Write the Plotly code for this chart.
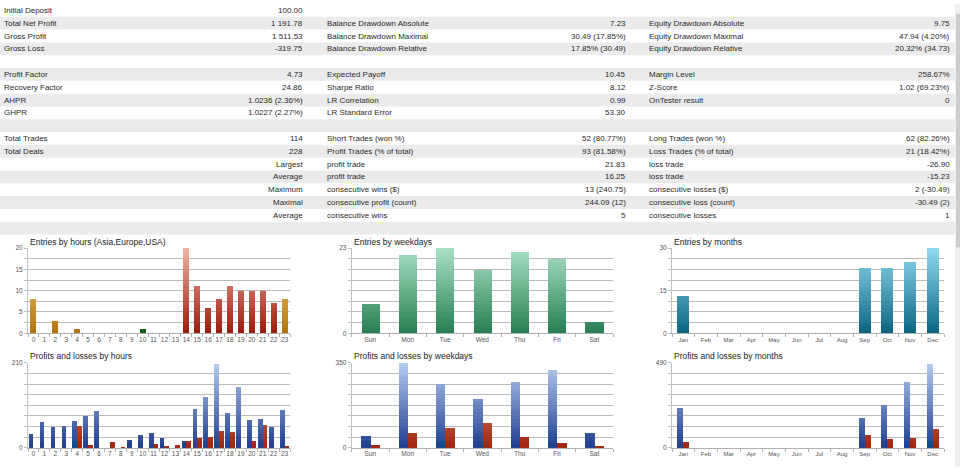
import numpy as np
import plotly.graph_objects as go

W, H = 960, 470
FONT = "Liberation Sans, Arial, sans-serif"

# ---------------- table data ----------------
labels_1 = ["Initial Deposit", "Total Net Profit", "Gross Profit", "Gross Loss", "",
            "Profit Factor", "Recovery Factor", "AHPR", "GHPR", "",
            "Total Trades", "Total Deals", "", "", "", "", "", ""]
values_1 = ["100.00", "1 191.78", "1 511.53", "-319.75", "",
            "4.73", "24.86", "1.0236 (2.36%)", "1.0227 (2.27%)", "",
            "114", "228", "Largest", "Average", "Maximum", "Maximal", "Average", ""]
labels_2 = ["", "Balance Drawdown Absolute", "Balance Drawdown Maximal", "Balance Drawdown Relative", "",
            "Expected Payoff", "Sharpe Ratio", "LR Correlation", "LR Standard Error", "",
            "Short Trades (won %)", "Profit Trades (% of total)", "profit trade", "profit trade",
            "consecutive wins ($)", "consecutive profit (count)", "consecutive wins", ""]
values_2 = ["", "7.23", "30.49 (17.85%)", "17.85% (30.49)", "",
            "10.45", "8.12", "0.99", "53.30", "",
            "52 (80.77%)", "93 (81.58%)", "21.83", "16.25", "13 (240.75)", "244.09 (12)", "5", ""]
labels_3 = ["", "Equity Drawdown Absolute", "Equity Drawdown Maximal", "Equity Drawdown Relative", "",
            "Margin Level", "Z-Score", "OnTester result", "", "",
            "Long Trades (won %)", "Loss Trades (% of total)", "loss trade", "loss trade",
            "consecutive losses ($)", "consecutive loss (count)", "consecutive losses", ""]
values_3 = ["", "9.75", "47.94 (4.20%)", "20.32% (34.73)", "",
            "258.67%", "1.02 (69.23%)", "0", "", "",
            "62 (82.26%)", "21 (18.42%)", "-26.90", "-15.23", "2 (-30.49)", "-30.49 (2)", "1", ""]

# ---------------- chart data ----------------
hours = [str(h) for h in range(24)]
hour_session = ["Asia"] * 8 + ["Europe"] * 6 + ["USA"] * 9 + ["Asia"]
entries_hours = [8, 0, 3, 0, 1, 0, 0, 0, 0, 0, 1, 0, 0, 0, 20, 11, 6, 8, 11, 10, 10, 10, 7, 8]

weekdays = ["Sun", "Mon", "Tue", "Wed", "Thu", "Fri", "Sat"]
entries_weekdays = [8, 21, 23, 17, 22, 20, 3]

months = ["Jan", "Feb", "Mar", "Apr", "May", "Jun", "Jul", "Aug", "Sep", "Oct", "Nov", "Dec"]
entries_months = [13, 0, 0, 0, 0, 0, 0, 0, 23, 23, 25, 30]

profit_hours = [33.4, 64.3, 51.3, 52.9, 65.9, 79.8, 91.2, 0, 0, 20.3, 30.9, 36.6,
                23.6, 0, 17.9, 96.0, 125.3, 208.4, 85.5, 151.4, 67.6, 71.6, 51.3, 93.6]
loss_hours = [0, 0, 0, 0, 52.9, 7.3, 0, 14.7, 1.0, 0, 0, 8.1,
              3.3, 5.7, 17.1, 23.6, 26.0, 41.5, 39.0, 0, 17.1, 56.2, 0, 4.0]

profit_weekdays = [47.5, 349.0, 263.2, 202.1, 272.7, 322.9, 59.7]
loss_weekdays = [12.2, 59.7, 82.8, 101.7, 43.4, 17.6, 4.0]

profit_months = [229.8, 0, 0, 0, 0, 0, 0, 0, 174.7, 246.9, 381.7, 482.4]
loss_months = [30.4, 0, 0, 0, 0, 0, 0, 0, 72.2, 53.2, 58.9, 108.2]

# ---------------- colours ----------------
GRAD = {
    "Asia": ("#b3720a", "#f9dc8e"),
    "Europe": ("#0f5c14", "#86d486"),
    "USA": ("#9a190b", "#f2b4a4"),
    "week": ("#267e51", "#abe1c6"),
    "month": ("#0a6581", "#92daef"),
    "profit": ("#1e3d8e", "#b6ccef"),
    "loss": ("#a0240e", "#f0a48c"),
}


def mix(c0, c1, f):
    a = [int(c0[i:i + 2], 16) for i in (1, 3, 5)]
    b = [int(c1[i:i + 2], 16) for i in (1, 3, 5)]
    return "rgb(%d,%d,%d)" % tuple(round(a[k] + (b[k] - a[k]) * f) for k in range(3))


K = 24
fig = go.Figure()


def px_x(p):
    return p / W


def px_y(p):
    return 1 - p / H


def add_series(ax, cats, vals, groups, ymax, width, offset):
    vals = np.asarray(vals, dtype=float)
    for k in range(K, 0, -1):
        lvl = ymax * k / K
        f = (k - 0.5) / K
        cols = [mix(GRAD[g][0], GRAD[g][1], f) for g in groups]
        fig.add_trace(go.Bar(
            x=cats, y=np.minimum(vals, lvl), width=width, offset=offset,
            marker=dict(color=cols, line=dict(width=0)),
            xaxis="x" + ax, yaxis="y" + ax, hoverinfo="skip", showlegend=False))


charts = [
    # id, cats, series, ymax, labelled ticks, x px domain, y px domain, title, xfont
    ("", hours, [(entries_hours, hour_session, 0.55, -0.275)], 20, [0, 5, 10, 15, 20],
     (28, 290), (247.7, 334.3), "Entries by hours (Asia,Europe,USA)", 6.5),
    ("2", weekdays, [(entries_weekdays, ["week"] * 7, 0.49, -0.245)], 23, [0, 23],
     (351.7, 613), (247.7, 334.3), "Entries by weekdays", 6.5),
    ("3", months, [(entries_months, ["month"] * 12, 0.53, -0.265)], 30, [0, 15, 30],
     (672, 944), (247.7, 334.3), "Entries by months", 6),
    ("4", hours, [(profit_hours, ["profit"] * 24, 0.43, -0.43), (loss_hours, ["loss"] * 24, 0.43, 0.0)],
     210, [0, 210], (28, 290), (364.3, 450.3), "Profits and losses by hours", 6.5),
    ("5", weekdays, [(profit_weekdays, ["profit"] * 7, 0.25, -0.25), (loss_weekdays, ["loss"] * 7, 0.25, 0.0)],
     350, [0, 350], (351.7, 613), (364.3, 450.3), "Profits and losses by weekdays", 6.5),
    ("6", months, [(profit_months, ["profit"] * 12, 0.265, -0.265), (loss_months, ["loss"] * 12, 0.265, 0.0)],
     490, [0, 490], (672, 944), (364.3, 450.3), "Profits and losses by months", 6),
]

layout_axes = {}
annotations = []
for cid, cats, series, ymax, labelled, xd, yd, title, xfs in charts:
    for vals, groups, w, off in series:
        add_series(cid, cats, vals, groups, ymax, w, off)
    tv = [ymax * j / 8 for j in range(9)]
    tt = []
    for v in tv:
        lab = ""
        for L in labelled:
            if abs(v - L) < 1e-6:
                lab = str(L)
        tt.append(lab)
    layout_axes["xaxis" + cid] = dict(
        domain=[px_x(xd[0]), px_x(xd[1])], anchor="y" + cid, type="category",
        range=[-0.5, len(cats) - 0.5], showgrid=False, zeroline=False,
        showline=True, linecolor="#b0b0b0", linewidth=1,
        ticks="outside", tickson="boundaries", ticklen=3, tickcolor="#b0b0b0",
        tickangle=0, tickfont=dict(size=xfs, color="#555555", family=FONT), fixedrange=True)
    layout_axes["yaxis" + cid] = dict(
        domain=[px_y(yd[1]), px_y(yd[0])], anchor="x" + cid, range=[0, ymax],
        tickvals=tv, ticktext=tt, showgrid=True, gridcolor="#bababa", gridwidth=1,
        zeroline=False, showline=True, linecolor="#c0c0c0", linewidth=1,
        ticks="outside", ticklen=3, tickcolor="#c0c0c0",
        tickfont=dict(size=6.5, color="#555555", family=FONT), fixedrange=True)
    annotations.append(dict(
        text=title, xref="paper", yref="paper", x=px_x(xd[0]), y=px_y(yd[0] - 6.5),
        xanchor="left", yanchor="middle", showarrow=False,
        font=dict(size=8.5, color="#222222", family=FONT)))

# table text
col_pos = [(2, "left", labels_1), (305, "right", values_1), (325, "left", labels_2),
           (628, "right", values_2), (647, "left", labels_3), (952, "right", values_3)]
ROW = 13
shapes = []
n_rows = len(labels_1)
for i in range(n_rows):
    if i % 2 == 1:
        shapes.append(dict(type="rect", xref="paper", yref="paper",
                           x0=0, x1=px_x(955), y0=px_y(ROW * i + ROW), y1=px_y(ROW * i),
                           fillcolor="#ebebeb", line=dict(width=0), layer="below"))
    for xp, anchor, col in col_pos:
        if col[i]:
            annotations.append(dict(
                text=col[i], xref="paper", yref="paper", x=px_x(xp), y=px_y(ROW * i + ROW / 2),
                xanchor=anchor, yanchor="middle", showarrow=False,
                font=dict(size=8, color="#2a2a2a", family=FONT)))

# scrollbar
shapes.append(dict(type="rect", xref="paper", yref="paper", x0=px_x(955), x1=1, y0=0, y1=1,
                   fillcolor="#f0f0f0", line=dict(width=0), layer="below"))
shapes.append(dict(type="rect", xref="paper", yref="paper", x0=px_x(956), x1=1,
                   y0=px_y(247), y1=px_y(10), fillcolor="#cdcdcd", line=dict(width=0), layer="below"))

fig.update_layout(
    width=W, height=H, margin=dict(l=0, r=0, t=0, b=0),
    paper_bgcolor="white", plot_bgcolor="rgba(0,0,0,0)",
    barmode="overlay", bargap=0, showlegend=False,
    font=dict(family=FONT, size=8, color="#333333"),
    annotations=annotations, shapes=shapes, **layout_axes)

fig.write_html("out.html", config={"displayModeBar": False},
               post_script="document.body.style.margin='0';document.body.style.overflow='hidden';")
